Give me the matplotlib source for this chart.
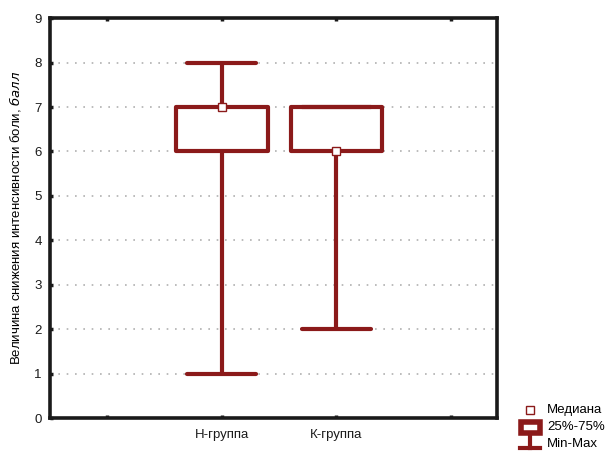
import matplotlib
matplotlib.use("Agg")
import matplotlib.pyplot as plt
from matplotlib.patches import Rectangle
from matplotlib.lines import Line2D

plt.rcParams['font.family'] = ['Liberation Sans', 'DejaVu Sans']

# data
groups = ["Н-группа", "К-группа"]
positions = [2, 3]
mins = [1, 2]
q1 = [6, 6]
medians = [7, 6]
q3 = [7, 7]
maxs = [8, 7]
yticks = list(range(10))

col = "#8B1A1A"
lw = 3.0
fs = 9.5

fig = plt.figure(figsize=(6.09, 4.53), dpi=100)
ax = fig.add_axes([0.082, 0.077, 0.734, 0.883])

box_w = 0.8
cap_w = 0.6
for p, lo, a, m, b, hi in zip(positions, mins, q1, medians, q3, maxs):
    ax.plot([p, p], [lo, a], color=col, lw=lw, solid_capstyle='butt', zorder=3)
    ax.plot([p, p], [b, hi], color=col, lw=lw, solid_capstyle='butt', zorder=3)
    ax.plot([p - cap_w / 2, p + cap_w / 2], [lo, lo], color=col, lw=lw,
            solid_capstyle='round', zorder=3)
    ax.plot([p - cap_w / 2, p + cap_w / 2], [hi, hi], color=col, lw=lw,
            solid_capstyle='round', zorder=3)
    ax.add_patch(Rectangle((p - box_w / 2, a), box_w, b - a, fill=False,
                           edgecolor=col, lw=lw, joinstyle='round', zorder=3))
    ax.plot([p], [m], marker='s', ms=5.5, mfc='white', mec=col, mew=1, zorder=4)

ax.set_xlim(0.5, 4.4)
ax.set_ylim(0, 9)
ax.set_yticks(yticks)
ax.set_xticks([1, 2, 3, 4])
ax.set_xticklabels(["", groups[0], groups[1], ""])
ax.yaxis.grid(True, linestyle=(0, (1, 4)), color="#b0b0b0", lw=1.2)
ax.set_axisbelow(True)

for s in ax.spines.values():
    s.set_linewidth(2.6)
    s.set_color("#1a1a1a")
ax.tick_params(axis='both', direction='in', length=2, width=2.5, labelsize=fs,
               colors="#1a1a1a", pad=6)
ax.tick_params(axis='x', top=True, pad=8)

ax.set_ylabel(r"Величина снижения интенсивности боли, $\it{балл}$", fontsize=fs,
              labelpad=8)

# legend, drawn by hand at the lower right
fig.add_artist(Line2D([0.870], [0.095], marker='s', ms=5.5, mfc='white', mec=col,
                      mew=1, transform=fig.transFigure))
fig.text(0.898, 0.095, "Медиана", fontsize=fs, va='center')
fig.add_artist(Rectangle((0.856, 0.044), 0.030, 0.025, fill=False, edgecolor=col,
                         lw=4, transform=fig.transFigure))
fig.add_artist(Line2D([0.871, 0.871], [0.040, 0.011], color=col, lw=3,
                      transform=fig.transFigure))
fig.add_artist(Line2D([0.854, 0.887], [0.011, 0.011], color=col, lw=3,
                      transform=fig.transFigure))
fig.text(0.898, 0.057, "25%-75%", fontsize=fs, va='center')
fig.text(0.898, 0.020, "Min-Max", fontsize=fs, va='center')

fig.savefig("out.png", dpi=100)
